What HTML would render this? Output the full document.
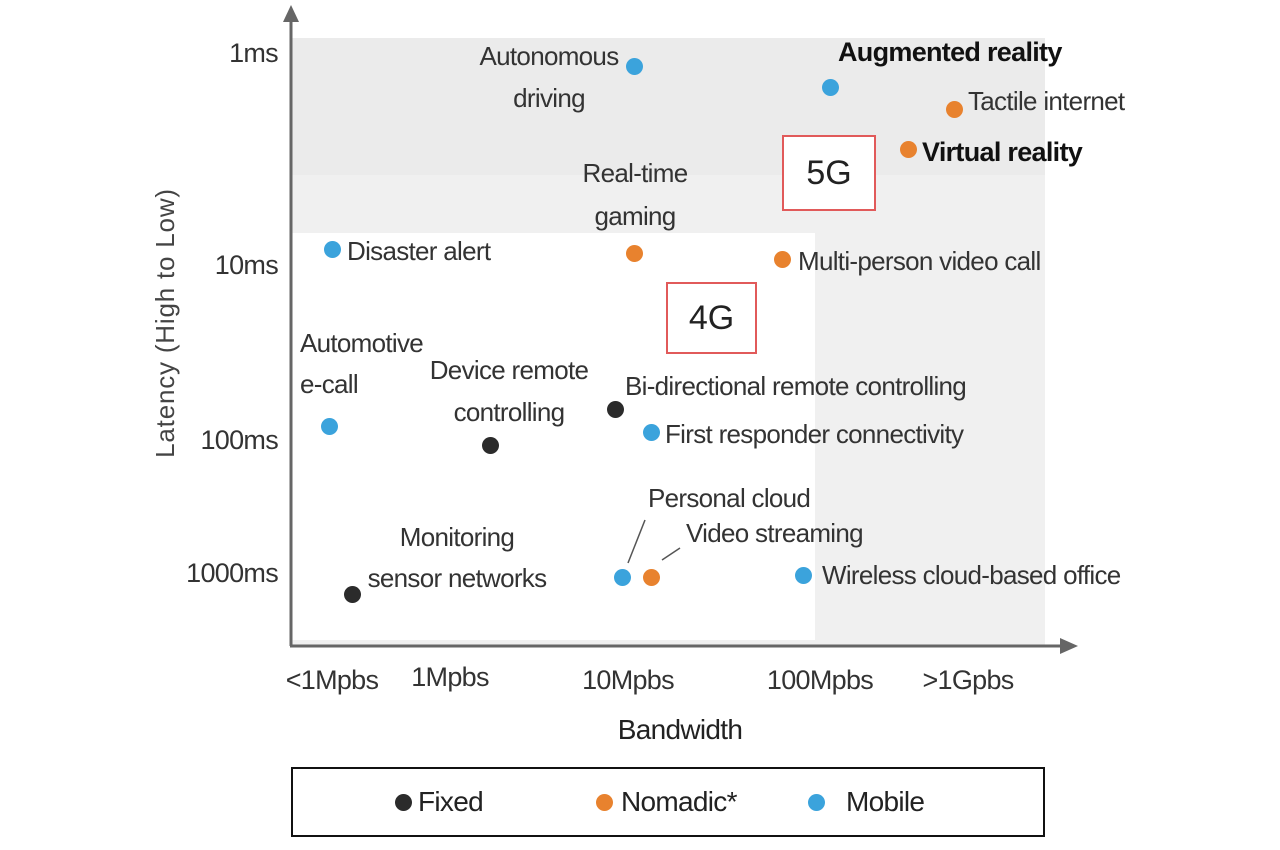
<!DOCTYPE html>
<html><head><meta charset="utf-8"><style>
body{margin:0;width:1280px;height:850px;background:#fff;position:relative;overflow:hidden;font-family:"Liberation Sans",sans-serif;color:#333;}
.a{position:absolute;white-space:nowrap;font-size:26px;line-height:28px;letter-spacing:-0.7px;}
.c{transform:translateX(-50%);}
.r{transform:translateX(-100%);}
.d{position:absolute;width:17px;height:17px;border-radius:50%;margin:-8px 0 0 -8px;}
.k{background:#2b2b2b}.o{background:#e8822e}.b{background:#3ba3dc}
.box{position:absolute;border:2px solid #e15a5a;background:#fff;font-size:34px;display:flex;align-items:center;justify-content:center;color:#222;}
</style></head><body>
<div style="position:absolute;left:291px;top:38px;width:754px;height:137px;background:#ebebeb"></div>
<div style="position:absolute;left:291px;top:175px;width:754px;height:470px;background:#f0f0f0"></div>
<div style="position:absolute;left:291px;top:233px;width:524px;height:407px;background:#fff"></div>
<svg style="position:absolute;left:0;top:0" width="1280" height="850">
<line x1="291" y1="18" x2="291" y2="646" stroke="#666" stroke-width="3"/>
<polygon points="283,22 291,5 299,22" fill="#666"/>
<line x1="290" y1="646" x2="1062" y2="646" stroke="#666" stroke-width="3"/>
<polygon points="1060,638 1078,646 1060,654" fill="#666"/>
<line x1="628" y1="563" x2="645" y2="520" stroke="#555" stroke-width="1.5"/>
<line x1="662" y1="560" x2="680" y2="548" stroke="#555" stroke-width="1.5"/>
<rect x="292" y="768" width="752" height="68" fill="none" stroke="#111" stroke-width="2"/>
</svg>
<div class="box" style="left:782px;top:135px;width:90px;height:72px">5G</div>
<div class="box" style="left:666px;top:282px;width:87px;height:68px">4G</div>

<div class="d b" style="left:634px;top:66px"></div>
<div class="d b" style="left:830px;top:87px"></div>
<div class="d o" style="left:954px;top:109px"></div>
<div class="d o" style="left:908px;top:149px"></div>
<div class="d o" style="left:634px;top:253px"></div>
<div class="d o" style="left:782px;top:259px"></div>
<div class="d b" style="left:332px;top:249px"></div>
<div class="d b" style="left:329px;top:426px"></div>
<div class="d k" style="left:490px;top:445px"></div>
<div class="d k" style="left:615px;top:409px"></div>
<div class="d b" style="left:651px;top:432px"></div>
<div class="d b" style="left:622px;top:577px"></div>
<div class="d o" style="left:651px;top:577px"></div>
<div class="d b" style="left:803px;top:575px"></div>
<div class="d k" style="left:352px;top:594px"></div>

<div class="a c" style="left:549px;top:42px">Autonomous</div>
<div class="a c" style="left:549px;top:84px">driving</div>
<div class="a" style="left:838px;top:38px;font-size:27px;font-weight:bold;color:#111">Augmented reality</div>
<div class="a" style="left:968px;top:87px">Tactile internet</div>
<div class="a" style="left:922px;top:138px;font-size:27px;font-weight:bold;color:#111">Virtual reality</div>
<div class="a c" style="left:635px;top:159px">Real-time</div>
<div class="a c" style="left:635px;top:202px">gaming</div>
<div class="a" style="left:347px;top:237px">Disaster alert</div>
<div class="a" style="left:798px;top:247px">Multi-person video call</div>
<div class="a" style="left:300px;top:329px">Automotive</div>
<div class="a" style="left:300px;top:370px">e-call</div>
<div class="a c" style="left:509px;top:356px">Device remote</div>
<div class="a c" style="left:509px;top:398px">controlling</div>
<div class="a" style="left:625px;top:372px">Bi-directional remote controlling</div>
<div class="a" style="left:665px;top:420px">First responder connectivity</div>
<div class="a" style="left:648px;top:484px">Personal cloud</div>
<div class="a" style="left:686px;top:519px">Video streaming</div>
<div class="a c" style="left:457px;top:523px">Monitoring</div>
<div class="a c" style="left:457px;top:564px">sensor networks</div>
<div class="a" style="left:822px;top:561px">Wireless cloud-based office</div>

<div class="a r" style="left:278px;top:39px;font-size:27px">1ms</div>
<div class="a r" style="left:278px;top:251px;font-size:27px">10ms</div>
<div class="a r" style="left:278px;top:426px;font-size:27px">100ms</div>
<div class="a r" style="left:278px;top:559px;font-size:27px">1000ms</div>

<div class="a c" style="left:332px;top:666px;font-size:27px">&lt;1Mpbs</div>
<div class="a c" style="left:450px;top:663px;font-size:27px">1Mpbs</div>
<div class="a c" style="left:628px;top:666px;font-size:27px">10Mpbs</div>
<div class="a c" style="left:820px;top:666px;font-size:27px">100Mpbs</div>
<div class="a c" style="left:968px;top:666px;font-size:27px">&gt;1Gpbs</div>
<div class="a c" style="left:680px;top:716px;color:#222;font-size:28px">Bandwidth</div>
<div class="a" style="left:165px;top:323px;transform:translate(-50%,-50%) rotate(-90deg);color:#444;font-size:26px;letter-spacing:0.8px">Latency (High to Low)</div>

<div class="d k" style="left:403px;top:802px"></div>
<div class="d o" style="left:604px;top:802px"></div>
<div class="d b" style="left:816px;top:802px"></div>
<div class="a" style="left:418px;top:788px;font-size:28px;color:#222">Fixed</div>
<div class="a" style="left:621px;top:788px;font-size:28px;color:#222">Nomadic*</div>
<div class="a" style="left:846px;top:788px;font-size:28px;color:#222">Mobile</div>
</body></html>
